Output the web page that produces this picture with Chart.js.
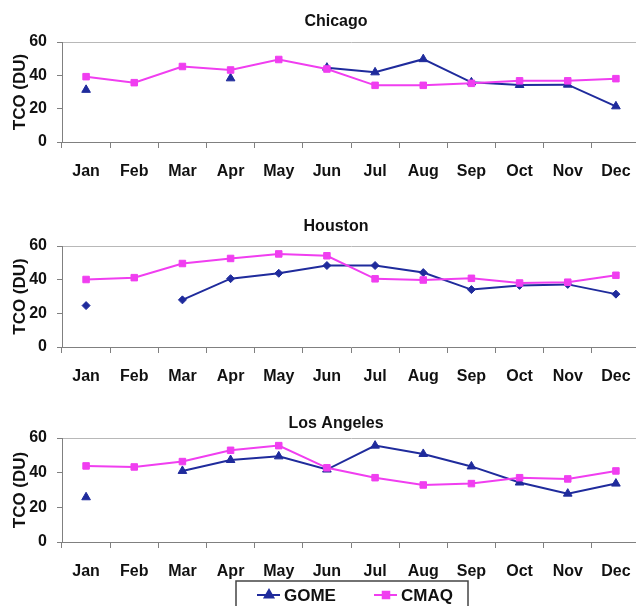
<!DOCTYPE html>
<html>
<head>
<meta charset="utf-8">
<script src="https://cdn.jsdelivr.net/npm/chart.js@4.4.1/dist/chart.umd.min.js"></script>
<style>
  html, body { margin: 0; padding: 0; background: #fff; overflow: hidden; }
  #quadro { position: relative; width: 636px; height: 606px; overflow: hidden; background: #fff; }
  .painel { position: absolute; left: 0; }
</style>
</head>
<body>
<div id="quadro">
  <div class="painel" style="top:0px"><canvas id="chicago" width="672" height="182"></canvas></div>
  <div class="painel" style="top:190px"><canvas id="houston" width="672" height="197"></canvas></div>
  <div class="painel" style="top:400px"><canvas id="la" width="672" height="206"></canvas></div>
</div>
<script>
const meses = ['Jan', 'Feb', 'Mar', 'Apr', 'May', 'Jun', 'Jul', 'Aug', 'Sep', 'Oct', 'Nov', 'Dec'];
const ticksY = [0, 20, 40, 60];
const series = ['GOME', 'CMAQ'];

// TCO (DU) mensal por cidade; null = mes sem dado
const chicagoGome = [31.3, null, null, 38.2, null, 44.6, 41.8, 49.7, 35.8, 34.2, 34.4, 21.4];
const chicagoCmaq = [39.2, 35.6, 45.3, 43.2, 49.5, 43.8, 34.0, 34.0, 35.2, 36.7, 36.7, 38.0];
const houstonGome = [24.6, null, 28.0, 40.6, 43.8, 48.4, 48.4, 44.2, 34.1, 36.6, 37.2, 31.4];
const houstonCmaq = [40.1, 41.2, 49.6, 52.6, 55.3, 54.2, 40.5, 39.8, 40.8, 38.0, 38.5, 42.6];
const laGome = [25.8, null, 41.0, 47.3, 49.4, 41.8, 55.6, 50.8, 43.6, 34.3, 27.9, 33.7];
const laCmaq = [43.9, 43.3, 46.4, 52.9, 55.6, 42.8, 37.1, 32.9, 33.7, 37.1, 36.4, 41.0];

const corGome = '#1f2b9c';
const corCmaq = '#f03ef0';
const corEixo = '#808080';
const fonte = "'Liberation Sans', Arial, sans-serif";

// titulo de cada painel, centrado em x fixo
const tituloPlugin = {
    id: 'tituloPainel',
    afterDraw(chart, args, opts) {
        const ctx = chart.ctx;
        ctx.save();
        ctx.font = `bold 16px ${fonte}`;
        ctx.fillStyle = '#111';
        ctx.textAlign = 'center';
        ctx.textBaseline = 'middle';
        ctx.fillText(opts.texto, opts.x, opts.y);
        ctx.restore();
    }
};

// legenda em caixa, so no ultimo painel
const legendaPlugin = {
    id: 'legendaCaixa',
    afterDraw(chart, args, opts) {
        if (!opts.mostrar) return;
        const ctx = chart.ctx;
        ctx.save();
        ctx.fillStyle = '#fff';
        ctx.fillRect(opts.x, opts.y, opts.largura, opts.altura);
        ctx.strokeStyle = '#444';
        ctx.lineWidth = 1.5;
        ctx.strokeRect(opts.x, opts.y, opts.largura, opts.altura);

        chart.data.datasets.forEach((ds, i) => {
            const lx = opts.x + 21 + i * 117;
            const ly = opts.y + 14;
            ctx.strokeStyle = ds.borderColor;
            ctx.fillStyle = ds.borderColor;
            ctx.lineWidth = 2;
            ctx.beginPath();
            ctx.moveTo(lx, ly);
            ctx.lineTo(lx + 23, ly);
            ctx.stroke();
            Chart.helpers.drawPoint(ctx, {
                pointStyle: opts.marcas[i],
                radius: ds.pointRadius,
                borderWidth: 1,
                rotation: 0
            }, lx + 12, ly);
            ctx.fillStyle = '#111';
            ctx.font = `bold 17px ${fonte}`;
            ctx.textAlign = 'left';
            ctx.textBaseline = 'middle';
            ctx.fillText(ds.label, lx + 27, ly + 1);
        });
        ctx.restore();
    }
};

function criarGrafico(p) {
    const canvas = document.getElementById(p.id);
    const topoArea = p.areaTopo - p.topo;

    return new Chart(canvas.getContext('2d'), {
        type: 'line',
        data: {
            labels: meses,
            datasets: [
                {
                    label: series[0],
                    data: p.gome,
                    borderColor: corGome,
                    backgroundColor: corGome,
                    borderWidth: 2,
                    pointStyle: p.marcaGome,
                    pointRadius: p.marcaGome === 'rectRot' ? 4 : 5,
                    pointBorderWidth: 1,
                    spanGaps: false,
                    tension: 0,
                    order: 2
                },
                {
                    label: series[1],
                    data: p.cmaq,
                    borderColor: corCmaq,
                    backgroundColor: corCmaq,
                    borderWidth: 2,
                    pointStyle: 'rect',
                    pointRadius: 4.6,
                    pointBorderWidth: 1,
                    tension: 0,
                    order: 1
                }
            ]
        },
        options: {
            responsive: false,
            animation: false,
            layout: { padding: { top: topoArea, right: 32, bottom: p.padBaixo || 0, left: 0 } },
            plugins: {
                legend: { display: false },
                tooltip: { enabled: false },
                tituloPainel: { texto: p.titulo, x: 336, y: p.tituloY - p.topo },
                legendaCaixa: {
                    mostrar: !!p.legenda,
                    x: 236, y: 581 - p.topo, largura: 232, altura: 32,
                    marcas: ['triangle', 'rect']
                }
            },
            scales: {
                x: {
                    offset: true,
                    afterFit: (s) => { s.height = 40; },
                    border: { color: corEixo, width: 1 },
                    grid: { offset: true, drawOnChartArea: false, tickLength: 6, tickColor: corEixo },
                    ticks: { color: '#111', padding: 14, maxRotation: 0, font: { family: fonte, size: 16, weight: 'bold' } }
                },
                y: {
                    min: 0,
                    max: 60,
                    afterFit: (s) => { s.width = 62; },
                    afterBuildTicks: (s) => { s.ticks = ticksY.map(v => ({ value: v })); },
                    border: { color: corEixo, width: 1 },
                    grid: {
                        color: (c) => c.tick && c.tick.value === 60 ? '#b8b8b8' : 'rgba(0,0,0,0)',
                        tickColor: corEixo,
                        tickLength: 5
                    },
                    ticks: { color: '#111', padding: 10, font: { family: fonte, size: 16, weight: 'bold' } },
                    title: {
                        display: true,
                        text: 'TCO (DU)',
                        color: '#111',
                        padding: { top: 10, bottom: 0 },
                        font: { family: fonte, size: 17, weight: 'bold' }
                    }
                }
            }
        },
        plugins: [tituloPlugin, legendaPlugin]
    });
}

const paineis = [
    { id: 'chicago', titulo: 'Chicago', topo: 0, areaTopo: 42, tituloY: 22, gome: chicagoGome, cmaq: chicagoCmaq, marcaGome: 'triangle' },
    { id: 'houston', titulo: 'Houston', topo: 190, areaTopo: 246, tituloY: 227, gome: houstonGome, cmaq: houstonCmaq, marcaGome: 'rectRot' },
    { id: 'la', titulo: 'Los Angeles', topo: 400, areaTopo: 438, tituloY: 424, gome: laGome, cmaq: laCmaq, marcaGome: 'triangle', legenda: true, padBaixo: 24 }
];

paineis.forEach(criarGrafico);
</script>
</body>
</html>
